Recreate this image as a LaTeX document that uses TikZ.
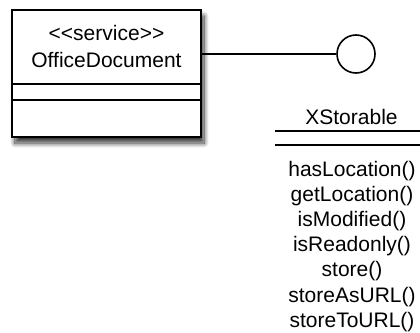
\documentclass[tikz,border=0pt]{standalone}
\usepackage{fontspec}
\setmainfont{Liberation Sans}
\usetikzlibrary{positioning,calc,shadows.blur}
\tikzset{
  every picture/.append style={line width=1.6pt},
  every node/.append style={font=\fontsize{21}{25}\selectfont, inner sep=0pt},
}
\begin{document}
\begin{tikzpicture}[
  x=1pt, y=-1pt,
  classbox/.style={draw, fill=white, minimum width=189pt, minimum height=127pt,
    blur shadow={shadow xshift=3pt, shadow yshift=-6pt, shadow blur radius=5pt,
      shadow blur steps=10, shadow opacity=80}},
  lollipop/.style={draw, circle, minimum size=38pt},
  label/.style={anchor=base},
  method/.style={anchor=base}
]
\useasboundingbox (0,0) rectangle (420,332);

% Service class box with empty compartments
\node[classbox] (doc) at (106.5,73.5) {};
\node[label] (stereo) at (106.5,40) {<\kern0pt<service>\kern0pt>};
\node[label] (docname) at (106.5,67) {OfficeDocument};
\draw ($(doc.north west)+(0,75)$) -- ($(doc.north east)+(0,75)$);
\draw ($(doc.north west)+(0,91)$) -- ($(doc.north east)+(0,91)$);

% Interface lollipop
\node[lollipop] (iface) at (356,54) {};
\draw (doc.east |- iface.west) -- (iface.west);

% XStorable interface with its methods
\node[label] (xs) at (351.5,124) {XStorable};
\draw (275,131) -- (420,131);
\draw (275,145) -- (420,145);
\foreach \m [count=\i] in {hasLocation(), getLocation(), isModified(), isReadonly(), store(), storeAsURL(), storeToURL()}
  \node[method] (m\i) at (352,{176+25.2*(\i-1)}) {\m};

\end{tikzpicture}
\end{document}
